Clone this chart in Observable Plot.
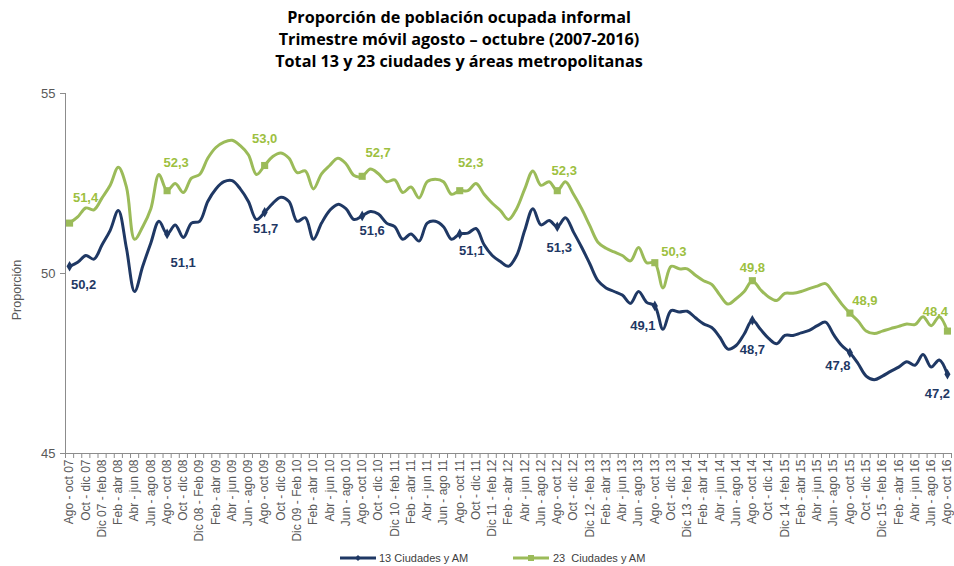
<!DOCTYPE html>
<html>
<head>
<meta charset="utf-8">
<script src="https://cdn.jsdelivr.net/npm/d3@7"></script>
<script src="https://cdn.jsdelivr.net/npm/@observablehq/plot@0.6"></script>
<style>
  html, body { margin: 0; padding: 0; background: #fff; }
  #wrap { position: relative; width: 954px; height: 566px; overflow: hidden; }
  #title { position: absolute; left: 0; top: 6px; width: 918px; text-align: center;
           font-family: "Open Sans", Lato, sans-serif; font-weight: bold; font-size: 16.2px;
           line-height: 22px; color: #000; }
  #chart { position: absolute; left: 0; top: 78px; }
  #ylab { position: absolute; left: 17px; top: 290px; transform: translate(-50%, -50%) rotate(-90deg);
          font-family: "Liberation Sans", Arial, sans-serif; font-size: 12.5px; color: #595959; white-space: nowrap; }
  .leg { position: absolute; top: 551px; font-family: "Liberation Sans", Arial, sans-serif;
         font-size: 11px; color: #404040; white-space: pre; line-height: 14px; }
</style>
</head>
<body>
<div id="wrap">
  <div id="title">Proporción de población ocupada informal<br>Trimestre móvil agosto – octubre (2007-2016)<br>Total 13 y 23 ciudades y áreas metropolitanas</div>
  <div id="chart"></div>
  <div id="ylab">Proporción</div>
  <svg class="leg" style="left:336px; top:551px;" width="44" height="14">
    <line x1="4" y1="7" x2="40" y2="7" stroke="#1F3864" stroke-width="3"/>
    <path d="M22 4 L25 7 L22 10 L19 7 Z" fill="#1F3864"/>
  </svg>
  <div class="leg" style="left:379px;">13 Ciudades y AM</div>
  <svg class="leg" style="left:509px; top:551px;" width="44" height="14">
    <line x1="4" y1="7" x2="40" y2="7" stroke="#9BBB59" stroke-width="3"/>
    <rect x="19" y="4" width="6" height="6" fill="#9BBB59"/>
  </svg>
  <div class="leg" style="left:553px;">23  Ciudades y AM</div>
</div>
<script>
const xLabels = [
  "Ago - oct 07","Oct - dic 07","Dic 07 - feb 08","Feb - abr 08","Abr - jun 08","Jun - ago 08",
  "Ago - oct 08","Oct - dic 08","Dic 08 - Feb 09","Feb - abr 09","Abr - jun 09","Jun - ago 09",
  "Ago - oct 09","Oct - dic 09","Dic 09 - Feb 10","Feb - abr 10","Abr - jun 10","Jun - ago 10",
  "Ago - oct 10","Oct - dic 10","Dic 10 - feb 11","Feb - abr 11","Abr - jun 11","Jun - ago 11",
  "Ago - oct 11","Oct - dic 11","Dic 11 - feb 12","Feb - abr 12","Abr - jun 12","Jun - ago 12",
  "Ago - oct 12","Oct - dic 12","Dic 12 - feb 13","Feb - abr 13","Abr - jun 13","Jun - ago 13",
  "Ago - oct 13","Oct - dic 13","Dic 13 - feb 14","Feb - abr 14","Abr - jun 14","Jun - ago 14",
  "Ago - oct 14","Oct - dic 14","Dic 14 - feb 15","Feb - abr 15","Abr - jun 15","Jun - ago 15",
  "Ago - oct 15","Oct - dic 15","Dic 15 - feb 16","Feb - abr 16","Abr - jun 16","Jun - ago 16",
  "Ago - oct 16"
];

// 13 ciudades y AM (monthly rolling quarters, Ago-oct 07 .. Ago-oct 16)
const ciudades13 = [
  50.2, 50.31, 50.5, 50.4, 50.8, 51.2, 51.75, 50.7, 49.5, 50.2, 50.85, 51.45,
  51.1, 51.35, 51.0, 51.4, 51.45, 52.0, 52.35, 52.55, 52.58, 52.35, 52.0, 51.5,
  51.7, 51.95, 52.12, 52.0, 51.45, 51.55, 50.95, 51.4, 51.75, 51.92, 51.8, 51.5,
  51.6, 51.72, 51.65, 51.4, 51.3, 50.95, 51.1, 50.9, 51.4, 51.45, 51.3, 50.95,
  51.1, 51.12, 51.25, 50.8, 50.5, 50.33, 50.2, 50.5, 51.2, 51.8, 51.35, 51.47,
  51.3, 51.55, 51.15, 50.73, 50.27, 49.8, 49.6, 49.5, 49.4, 49.17, 49.5, 49.2,
  49.1, 48.45, 48.97, 48.93, 48.95, 48.77, 48.6, 48.5, 48.23, 47.9, 48.0, 48.32,
  48.7, 48.45, 48.2, 48.05, 48.28, 48.28, 48.35, 48.42, 48.55, 48.65, 48.3, 48.0,
  47.8, 47.5, 47.15, 47.05, 47.15, 47.28, 47.4, 47.55, 47.45, 47.75, 47.4, 47.6,
  47.2
];

// 23 ciudades y AM
const ciudades23 = [
  51.4, 51.57, 51.82, 51.77, 52.1, 52.45, 52.95, 52.4, 50.95, 51.3, 51.8, 52.75,
  52.3, 52.5, 52.25, 52.65, 52.75, 53.2, 53.5, 53.65, 53.7, 53.55, 53.3, 52.75,
  53.0, 53.25, 53.35, 53.2, 52.8, 52.85, 52.35, 52.77, 53.0, 53.2, 53.05, 52.72,
  52.7, 52.9, 52.77, 52.55, 52.6, 52.25, 52.4, 52.1, 52.55, 52.62, 52.55, 52.2,
  52.3, 52.3, 52.5, 52.2, 51.95, 51.75, 51.5, 51.8, 52.35, 52.85, 52.45, 52.55,
  52.3, 52.55, 52.2, 51.8, 51.33, 50.87, 50.7, 50.6, 50.5, 50.35, 50.72, 50.3,
  50.3, 49.6, 50.2, 50.13, 50.13, 49.95, 49.8, 49.7, 49.4, 49.15, 49.3, 49.5,
  49.8, 49.55, 49.35, 49.25, 49.45, 49.45, 49.5, 49.58, 49.65, 49.72, 49.45, 49.15,
  48.9, 48.68, 48.4, 48.33, 48.4, 48.47, 48.53, 48.6, 48.58, 48.8, 48.55, 48.8,
  48.4
];

const yTicks = [45, 50, 55];

// label offsets (style) for the yearly data labels: [dx, dy]
const off23 = [[16,-25],[9,-28],[0,-27],[16,-23],[11,-28],[7,-20],[19,-11],[0,-13],[15,-12],[-12,-19]];
const off13 = [[14,19],[16,29],[1,17],[10,15],[12,17],[2,21],[-12,20],[0,30],[-12,13],[-10,20]];

const BLUE = "#1F3864", GREEN = "#9BBB59", GREEN_TXT = "#9DC03F", AXIS = "#8C8C8C", TXT = "#595959";
const FONT = "'Liberation Sans', Arial, sans-serif";

const d13 = ciudades13.map((v, i) => ({i, v}));
const d23 = ciudades23.map((v, i) => ({i, v}));
const y13 = d13.filter(d => d.i % 12 === 0);
const y23 = d23.filter(d => d.i % 12 === 0);
const fmt = v => v.toFixed(1).replace(".", ",");

const boundaries = d3.range(-0.5, ciudades13.length, 1);
const labelIdx = xLabels.map((_, k) => k * 2);

const labelMarks = [];
y23.forEach((d, k) => labelMarks.push(Plot.text([d], {x: "i", y: "v", text: d => fmt(d.v),
  dx: off23[k][0], dy: off23[k][1], fill: GREEN_TXT, fontWeight: "bold", fontSize: 13, fontFamily: FONT})));
y13.forEach((d, k) => labelMarks.push(Plot.text([d], {x: "i", y: "v", text: d => fmt(d.v),
  dx: off13[k][0], dy: off13[k][1], fill: BLUE, fontWeight: "bold", fontSize: 13, fontFamily: FONT})));

const chart = Plot.plot({
  width: 954,
  height: 470,
  marginLeft: 65,
  marginRight: 3,
  marginTop: 15,
  marginBottom: 95,
  style: {fontFamily: FONT, background: "#fff"},
  x: {domain: [-0.5, ciudades13.length - 0.5], axis: null},
  y: {domain: [45, 55], axis: null},
  marks: [
    Plot.ruleX([-0.5], {stroke: AXIS, strokeWidth: 1}),
    Plot.ruleY([45], {stroke: AXIS, strokeWidth: 1}),
    Plot.axisY({ticks: yTicks, tickSize: 5, tickPadding: 5, fontSize: 13, color: TXT, stroke: AXIS,
      tickFormat: d => String(d), label: null, fontFamily: FONT}),
    Plot.axisX({ticks: boundaries, tickSize: 5, tickFormat: () => "", stroke: AXIS, label: null}),
    Plot.axisX({ticks: labelIdx, tickSize: 0, tickPadding: 6, tickRotate: -90, fontSize: 12,
      fill: TXT, tickFormat: i => xLabels[i / 2], label: null, fontFamily: FONT}),
    Plot.line(d23, {x: "i", y: "v", stroke: GREEN, strokeWidth: 3, curve: "catmull-rom"}),
    Plot.line(d13, {x: "i", y: "v", stroke: BLUE, strokeWidth: 3, curve: "catmull-rom"}),
    Plot.dot(y23, {x: "i", y: "v", symbol: "square", r: 4, fill: GREEN}),
    Plot.dot(y13, {x: "i", y: "v", symbol: "diamond", r: 3.2, fill: BLUE}),
    ...labelMarks
  ]
});
document.getElementById("chart").appendChild(chart);
</script>
</body>
</html>
